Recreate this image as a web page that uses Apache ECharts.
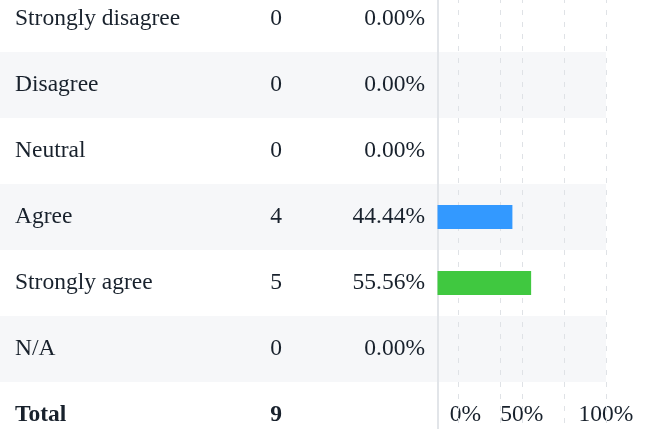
<!DOCTYPE html>
<html><head><meta charset="utf-8">
<script src="https://cdn.jsdelivr.net/npm/echarts@6/dist/echarts.min.js"></script>
<style>html,body{margin:0;padding:0;background:#fff}#c{width:650px;height:429px}</style>
</head><body><div id="c"></div>
<script>
const categories = ['Strongly disagree', 'Disagree', 'Neutral', 'Agree', 'Strongly agree', 'N/A'];
const counts = [0, 0, 0, 4, 5, 0];
const percents = [0.00, 0.00, 0.00, 44.44, 55.56, 0.00];
const totalLabel = 'Total';
const tickValues = [0, 50, 100];
const tickLabels = ['0%', '50%', '100%'];
const gridValues = [12.5, 37.5, 50, 75, 100];

const palette = ['#3399ff', '#3399ff', '#3399ff', '#3399ff', '#40c840', '#3399ff'];
const FONT = 'Liberation Serif';
const FS = 23.5;
const TXT = '#18212c';
const total = counts.reduce((a, b) => a + b, 0);
const rows = categories.concat([totalLabel]);

const chart = echarts.init(document.getElementById('c'), null, {renderer: 'canvas'});
chart.setOption({
  animation: false,
  backgroundColor: '#ffffff',
  textStyle: {fontFamily: FONT, fontSize: FS, color: TXT},
  grid: {left: 0, top: -14, width: 606, height: 462, containLabel: false, outerBoundsMode: 'none'},
  xAxis: {
    type: 'value', min: -259.7, max: 100,
    axisLine: {show: false}, axisTick: {show: false}, splitLine: {show: false},
    axisLabel: {
      customValues: tickValues, inside: true, margin: 21,
      color: TXT, fontFamily: FONT, fontSize: FS,
      formatter: function (v) {
        const i = tickValues.indexOf(v);
        const s = i >= 0 ? tickLabels[i] : '';
        return v === 0 ? '{z|' + s + '}' : '{t|' + s + '}';
      },
      rich: {
        z: {padding: [0, 0, 0, 56], fontFamily: FONT, fontSize: FS, color: TXT},
        t: {fontFamily: FONT, fontSize: FS, color: TXT}
      }
    }
  },
  yAxis: {
    type: 'category', inverse: true, data: rows,
    axisLine: {show: false}, axisTick: {show: false},
    splitArea: {show: true, areaStyle: {color: ['#ffffff', '#f6f7f9']}},
    splitLine: {show: true, interval: function (idx) { return idx === 5; }, lineStyle: {color: '#e4e6ea', width: 2}},
    axisLabel: {
      inside: true, margin: 15, align: 'left',
      fontFamily: FONT, fontSize: FS, color: TXT,
      formatter: function (value, index) {
        if (index < categories.length) {
          return '{n|' + value + '}{c|' + counts[index] + '}{p|' + percents[index].toFixed(2) + '%}';
        }
        return '{nb|' + value + '}{cb|' + total + '}';
      },
      rich: {
        n: {width: 248, align: 'left', fontFamily: FONT, fontSize: FS, color: TXT},
        c: {width: 26, align: 'center', fontFamily: FONT, fontSize: FS, color: TXT},
        p: {width: 136, align: 'right', fontFamily: FONT, fontSize: FS, color: TXT},
        nb: {width: 248, align: 'left', fontFamily: FONT, fontSize: FS, fontWeight: 'bold', color: TXT},
        cb: {width: 26, align: 'center', fontFamily: FONT, fontSize: FS, fontWeight: 'bold', color: TXT}
      }
    }
  },
  series: [{
    type: 'bar', barWidth: 24, z: 3,
    data: percents.map((v, i) => ({value: v, itemStyle: {color: palette[i]}})).concat(['-']),
    markLine: {
      silent: true, symbol: 'none', z: 1, label: {show: false},
      data: [{xAxis: 0, lineStyle: {type: 'solid', color: '#e2e5e9', width: 2}}].concat(
        gridValues.map(v => ({xAxis: v, lineStyle: {type: [5, 7], color: '#dfe2e6', width: 1}})))
    }
  }]
});
</script></body></html>
